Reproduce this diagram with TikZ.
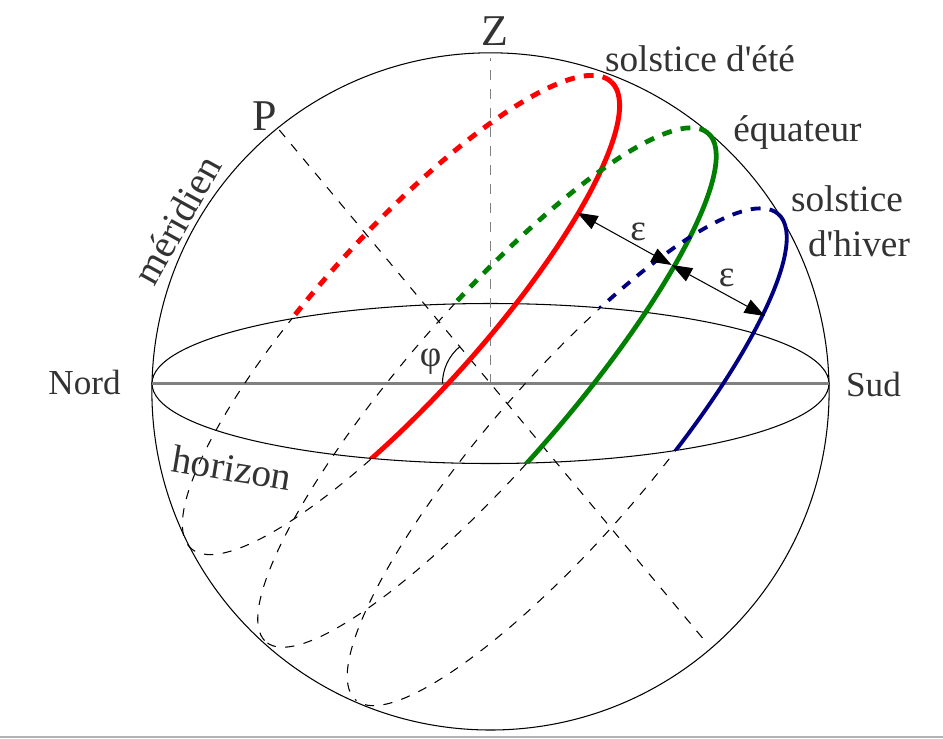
\documentclass[tikz,border=0pt]{standalone}
\usepackage{fontspec}
\setmainfont{Liberation Serif}
\usetikzlibrary{arrows.meta}

\definecolor{ete}{RGB}{255,0,0}
\definecolor{equat}{RGB}{0,128,0}
\definecolor{hiver}{RGB}{0,0,128}

\tikzset{
  lbl/.style={text=black!80, inner sep=0pt, font=\fontsize{10.6}{12}\selectfont},
  biglbl/.style={lbl, font=\fontsize{12.5}{14}\selectfont},
  thinline/.style={line width=0.3pt},
  hidden/.style={line width=0.3pt, dash pattern=on 2.6pt off 2.7pt},
  visible/.style={line width=1.3pt},
  behind/.style={line width=1.3pt, dash pattern=on 2.8pt off 2.6pt},
  eps/.style={line width=0.3pt, {Triangle[length=5.8pt,width=4.2pt]}-{Triangle[length=5.8pt,width=4.2pt]}},
}

% the four regions cut by the horizon
\newcommand\overback{(-5,0) -- (-3.385,0) arc[start angle=180,end angle=0,x radius=3.385,y radius=0.8] -- (5,0) -- (5,5) -- (-5,5) -- cycle}
\newcommand\underback{(-5,0) -- (-3.385,0) arc[start angle=180,end angle=0,x radius=3.385,y radius=0.8] -- (5,0) -- (5,-5) -- (-5,-5) -- cycle}
\newcommand\overfront{(-5,0) -- (-3.385,0) arc[start angle=180,end angle=360,x radius=3.385,y radius=0.8] -- (5,0) -- (5,5) -- (-5,5) -- cycle}
\newcommand\underfront{(-5,0) -- (-3.385,0) arc[start angle=180,end angle=360,x radius=3.385,y radius=0.8] -- (5,0) -- (5,-5) -- (-5,-5) -- cycle}

% diurnal circle: centre, tilt, a, b, colour, width
\newcommand\diurnal[6]{%
  \begin{scope}\clip\overback;
    \draw[behind,#5,line width=#6,shift={#1},rotate=#2] (#3,0) arc[start angle=0,end angle=180,x radius=#3,y radius=#4];
  \end{scope}
  \begin{scope}\clip\overfront;
    \draw[visible,#5,line width=#6,shift={#1},rotate=#2] (#3,0) arc[start angle=0,end angle=-180,x radius=#3,y radius=#4];
  \end{scope}
  \begin{scope}\clip\underback;
    \draw[hidden,shift={#1},rotate=#2] (#3,0) arc[start angle=0,end angle=180,x radius=#3,y radius=#4];
  \end{scope}
  \begin{scope}\clip\underfront;
    \draw[hidden,shift={#1},rotate=#2] (#3,0) arc[start angle=0,end angle=-180,x radius=#3,y radius=#4];
  \end{scope}}

\begin{document}
\begin{tikzpicture}
    \useasboundingbox (-4.905,-3.545) rectangle (4.525,3.835);
    \coordinate (O) at (0,0);
    \coordinate (N) at (-3.385,0);
    \coordinate (S) at (3.385,0);
    \coordinate (Ztop) at (0,3.255);
    \coordinate (P) at (129.8:3.3);
    \coordinate (Pbas) at (-50.2:3.4);
    \coordinate (bordG) at (-4.905,-3.535);
    \coordinate (bordD) at (4.525,-3.535);

    % sphere and horizon
    \draw[thinline] (0,-0.079) circle[radius=3.386];
    \draw[thinline] (O) ellipse[x radius=3.385, y radius=0.8];
    \draw[gray, line width=0.6pt] (N) -- (S);
    \draw[gray, line width=0.45pt, dash pattern=on 2.8pt off 2.6pt] (O) -- (Ztop);
    \draw[hidden] (P) -- (Pbas);
    \draw[thinline] (-0.48,0) arc[start angle=180, end angle=129.8, radius=0.48];

    % diurnal circles
    \diurnal{(-0.895,0.685)}{48}{3.14}{0.81}{ete}{1.4pt}
    \diurnal{(-0.035,-0.04)}{49}{3.37}{0.8}{equat}{1.35pt}
    \diurnal{(0.765,-0.735)}{49}{3.22}{0.8}{hiver}{1.1pt}

    % obliquity
    \coordinate (epsEte) at (0.868,1.708);
    \coordinate (epsEq) at (1.812,1.185);
    \coordinate (epsHiv) at (2.745,0.675);
    \draw[eps] (epsEte) -- (epsEq);
    \draw[eps] (epsEq) -- (epsHiv);

    \node[biglbl, anchor=base] (zenith) at (0.04,3.385) {Z};
    \node[biglbl, anchor=base] (pole) at (-2.255,2.535) {P};
    \node[lbl, anchor=base, font=\fontsize{10}{12}\selectfont] (nord) at (-4.06,-0.105) {Nord};
    \node[lbl, anchor=base, font=\fontsize{10}{12}\selectfont] (sud) at (3.83,-0.125) {Sud};
    \node[lbl, font=\fontsize{11.2}{13}\selectfont, rotate=61] (meridien) at (-3.135,1.635) {méridien};
    \node[lbl, font=\fontsize{11.2}{13}\selectfont, rotate=-9.5] (horizon) at (-2.585,-0.845) {horizon};
    \node[lbl, anchor=base] (ete) at (2.095,3.125) {solstice d\textquotesingle été};
    \node[lbl, anchor=base] (equateur) at (3.07,2.418) {équateur};
    \node[lbl, anchor=base] (hiv1) at (3.565,1.718) {solstice};
    \node[lbl, anchor=base] (hiv2) at (3.685,1.275) {d\textquotesingle hiver};
    \node[lbl] (phi) at (-0.598,0.218) {φ};
    \node[lbl] (eps1) at (1.478,1.518) {ε};
    \node[lbl] (eps2) at (2.362,1.052) {ε};

    \draw[gray!60, line width=0.6pt] (bordG) -- (bordD);
\end{tikzpicture}
\end{document}
